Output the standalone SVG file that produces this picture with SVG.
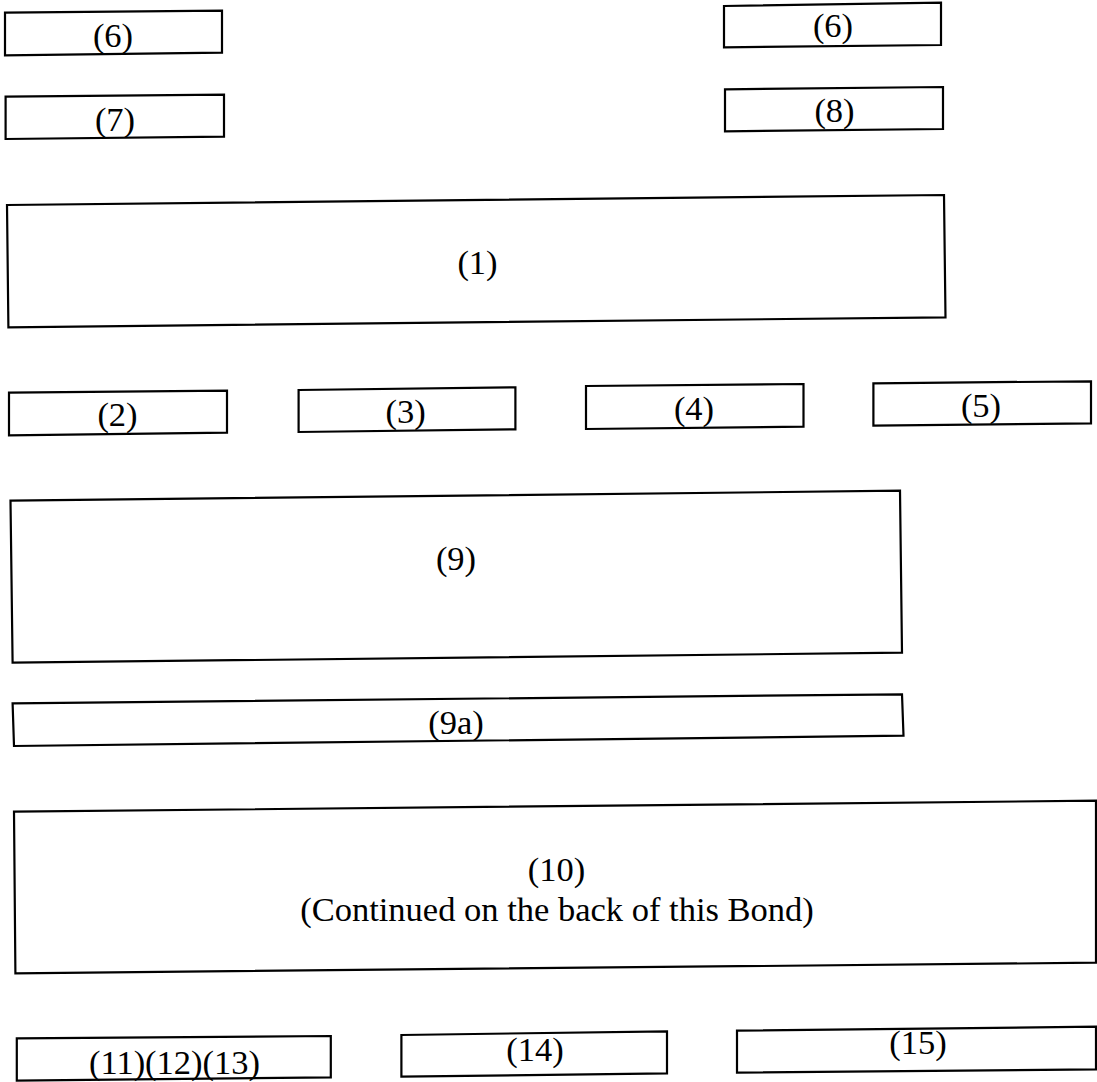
<svg xmlns="http://www.w3.org/2000/svg" width="1097" height="1082" viewBox="0 0 1097 1082">
<style>
.box{fill:#fff;stroke:#000;stroke-width:2.2;stroke-linejoin:miter}
.t{font-family:"Liberation Serif","Times New Roman",serif;font-size:34.5px;fill:#000;text-anchor:middle}
</style>
<rect width="1097" height="1082" fill="#fff"/>
<g id="n6a"><polygon class="box" points="5,12.7 222,10.7 222,52.7 5,55.3"/><text class="t" x="113" y="47">(6)</text></g>
<g id="n6b"><polygon class="box" points="724,6 941,2.7 941,45 724,47.3"/><text class="t" x="833" y="37">(6)</text></g>
<g id="n7"><polygon class="box" points="5.6,96.7 224,94.7 224,136.7 5.6,139"/><text class="t" x="115" y="130.5">(7)</text></g>
<g id="n8"><polygon class="box" points="725,89.3 943,87 943,129 725,131.3"/><text class="t" x="834.5" y="122">(8)</text></g>
<g id="n1"><polygon class="box" points="7,205 944,195 945.5,317.3 8.4,327.3"/><text class="t" x="477.5" y="274">(1)</text></g>
<g id="n2"><polygon class="box" points="9,392.7 227,390.7 227,432.7 9,435.3"/><text class="t" x="117.5" y="425.5">(2)</text></g>
<g id="n3"><polygon class="box" points="298.6,390 515.4,387.3 515.4,429.3 298.6,432"/><text class="t" x="405.6" y="423">(3)</text></g>
<g id="n4"><polygon class="box" points="586,386 803.5,384 803.5,426.7 586,429"/><text class="t" x="694" y="420">(4)</text></g>
<g id="n5"><polygon class="box" points="873.4,383.3 1091,381.3 1091,423.3 873.4,425.7"/><text class="t" x="981" y="417">(5)</text></g>
<g id="n9"><polygon class="box" points="10.5,500.7 900,490.7 902,652.7 12.6,662.7"/><text class="t" x="456" y="570">(9)</text></g>
<g id="n9a"><polygon class="box" points="12.6,703.3 902,694.3 903.5,735.7 14,746"/><text class="t" x="456" y="734">(9a)</text></g>
<g id="n10"><polygon class="box" points="14,811.7 1096,800.7 1096,962.7 15.4,973.3"/><text class="t" x="556.5" y="881">(10)</text><text class="t" x="557" y="921">(Continued on the back of this Bond)</text></g>
<g id="n11"><polygon class="box" points="16.8,1038.3 330.8,1036 330.8,1077.3 16.8,1080.7"/><text class="t" x="174.5" y="1074">(11)(12)(13)</text></g>
<g id="n14"><polygon class="box" points="401.4,1035 667,1031.3 667,1073.3 401.4,1076.7"/><text class="t" x="535" y="1061">(14)</text></g>
<g id="n15"><polygon class="box" points="737,1030.7 1096,1026.7 1096,1069.3 737,1072.7"/><text class="t" x="918" y="1054">(15)</text></g>
<g id="connectors"></g>
</svg>
